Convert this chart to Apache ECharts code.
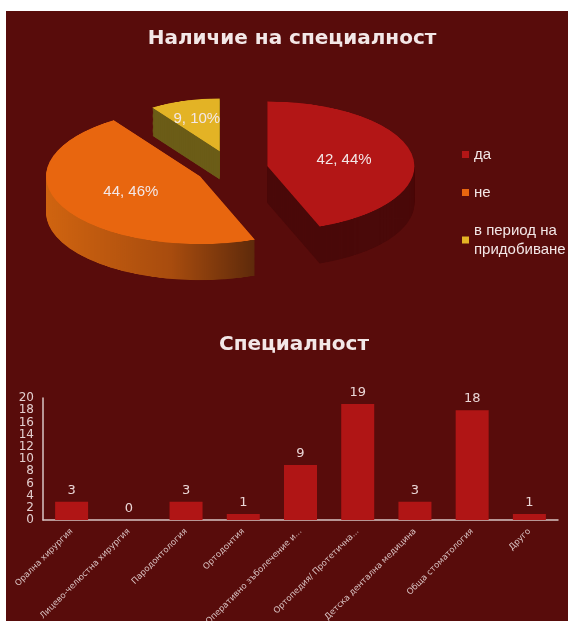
<!DOCTYPE html>
<html><head><meta charset="utf-8">
<script src="https://cdn.jsdelivr.net/npm/echarts@6/dist/echarts.min.js"></script>
<style>
html,body{margin:0;padding:0;width:568px;height:621px;overflow:hidden;background:#ffffff;}
#bg{position:absolute;left:6px;top:11px;width:562px;height:610px;background:#580c0b;}
#pie{position:absolute;left:0;top:-300px;width:568px;height:1200px;transform:scaleY(0.44);transform-origin:0 469px;}
#main{position:absolute;left:0;top:0;width:568px;height:621px;}
</style></head><body>
<div id="bg"></div><div id="pie"></div><div id="main"></div>
<script>
// ---- data ----
const pieTitle = 'Наличие на специалност';
const pieCategories = ['да', 'не', 'в период на придобиване'];
const pieValues = [42, 44, 9];

const barTitle = 'Специалност';
const barCategories = [
  'Орална хирургия',
  'Лицево-челюстна хирургия',
  'Пародонтология',
  'Ортодонтия',
  'Оперативно зъболечение и...',
  'Ортопедия/ Протетична...',
  'Детска дентална медицина',
  'Обща стоматология',
  'Друго'
];
const barValues = [3, 0, 3, 1, 9, 19, 3, 18, 1];
const yMin = 0, yMax = 20, yInterval = 2;

// ---- styling / layout ----
const topColors = ['#b31616', '#e8660f', '#e3b325'];
const sideColors = [
  '#4a0909',
  {type: 'linear', x: 0, y: 0, x2: 1, y2: 0, colorStops: [
    {offset: 0, color: '#d06410'}, {offset: 0.6, color: '#a84c0e'}, {offset: 1, color: '#5e2a0b'}]},
  '#6b5c17'
];
const explode = [36, 36, 42];
const sliceRadius = [147, 154, 120];   // perspective: the far slice looks smaller
const sliceDepth = [84, 82, 64];
const K = 0.44, CX = 232, CY = 169, R = 150, STEP = 2, PIE_SHIFT = 300;
const textLight = '#f3e7e7';

function sliceSeries(i, cy, color) {
  return {
    type: 'pie',
    center: [CX, cy],
    radius: sliceRadius[i],
    startAngle: 90,
    clockwise: true,
    selectedMode: 'multiple',
    selectedOffset: explode[i],
    animation: false,
    silent: true,
    emphasis: {disabled: true},
    label: {show: false},
    labelLine: {show: false},
    data: pieCategories.map((n, j) => ({
      name: n, value: pieValues[j], selected: j === i,
      itemStyle: {color: j === i ? color : 'rgba(0,0,0,0)', borderWidth: 0}
    }))
  };
}

// ---- 3D pie (squashed layer) ----
const pieSeries = [];
const maxDepth = Math.max.apply(null, sliceDepth);
for (let t = maxDepth; t > 0; t -= STEP) {
  for (let i = 0; i < pieValues.length; i++) {
    if (t <= sliceDepth[i]) pieSeries.push(sliceSeries(i, PIE_SHIFT + CY + t, sideColors[i]));
  }
}
for (let i = 0; i < pieValues.length; i++) {
  pieSeries.push(sliceSeries(i, PIE_SHIFT + CY, topColors[i]));
}
const pieChart = echarts.init(document.getElementById('pie'), null, {renderer: 'canvas'});
pieChart.setOption({animation: false, backgroundColor: 'transparent', series: pieSeries});

// ---- label pie (unsquashed text, positions projected onto the squashed pie) ----
const labelSeries = {
  type: 'pie',
  center: [CX, CY],
  radius: R,
  startAngle: 90,
  clockwise: true,
  percentPrecision: 0,
  animation: false,
  silent: true,
  emphasis: {disabled: true},
  labelLine: {show: false},
  label: {show: true, position: 'inside', formatter: '{c}, {d}%',
          color: textLight, fontSize: 15, fontFamily: 'Liberation Sans'},
  labelLayout: function (p) {
    const r = p.labelRect;
    const lx = r.x + r.width / 2, ly = r.y + r.height / 2;
    const dx = lx - CX, dy = ly - CY;
    const len = Math.hypot(dx, dy) || 1;
    const e = explode[p.dataIndex];
    const ex = lx + dx / len * e, ey = ly + dy / len * e;
    return {x: ex, y: CY + (ey - CY) * K};
  },
  data: pieCategories.map((n, j) => ({
    name: n, value: pieValues[j],
    itemStyle: {color: 'rgba(0,0,0,0)', borderWidth: 0}
  }))
};

function wrapWords(s, maxChars) {
  const words = s.split(' ');
  const lines = [];
  let cur = '';
  words.forEach(w => {
    const cand = cur ? cur + ' ' + w : w;
    if (cand.length > maxChars && cur) { lines.push(cur); cur = w; } else { cur = cand; }
  });
  if (cur) lines.push(cur);
  return lines.join('\n');
}

// ---- main layer ----
const axisColor = '#d8c4c4';
const main = echarts.init(document.getElementById('main'), null, {renderer: 'canvas'});
main.setOption({
  animation: false,
  backgroundColor: 'transparent',
  title: [
    {text: pieTitle, left: 287, textAlign: 'center', top: 24,
     textStyle: {color: textLight, fontSize: 20, fontWeight: 'bold', fontFamily: 'DejaVu Sans'}},
    {text: barTitle, left: 289, textAlign: 'center', top: 330,
     textStyle: {color: textLight, fontSize: 20, fontWeight: 'bold', fontFamily: 'DejaVu Sans'}}
  ],
  legend: {
    orient: 'vertical', left: 457, top: 140, itemWidth: 7, itemHeight: 7, itemGap: 19,
    icon: 'rect', selectedMode: false,
    data: pieCategories.map((n, i) => ({name: n, itemStyle: {color: topColors[i]}})),
    formatter: name => wrapWords(name, 12),
    textStyle: {color: textLight, fontSize: 15, fontFamily: 'Liberation Sans', lineHeight: 19}
  },
  grid: {left: 43, right: 10, top: 398, bottom: 101, containLabel: false, outerBoundsMode: 'none'},
  xAxis: {
    type: 'category', data: barCategories,
    axisLine: {show: true, lineStyle: {color: axisColor, width: 1.5}},
    axisTick: {show: false},
    axisLabel: {rotate: 45, interval: 0, fontSize: 8.5, color: '#d9c2c2', margin: 10,
                fontFamily: 'DejaVu Sans', hideOverlap: false}
  },
  yAxis: {
    type: 'value', min: yMin, max: yMax, interval: yInterval,
    axisLine: {show: true, lineStyle: {color: axisColor, width: 1.5}},
    axisTick: {show: false},
    splitLine: {show: false},
    axisLabel: {fontSize: 12, color: '#e3cfcf', margin: 9, fontFamily: 'DejaVu Sans',
                hideOverlap: false, showMinLabel: true, showMaxLabel: true}
  },
  series: [
    {
      type: 'bar', data: barValues, barWidth: 33,
      itemStyle: {color: '#b01515'},
      label: {show: true, position: 'top', distance: 5, color: '#ead6d6', fontSize: 13, fontFamily: 'DejaVu Sans'},
      silent: true
    },
    labelSeries
  ]
});
</script>
</body></html>
